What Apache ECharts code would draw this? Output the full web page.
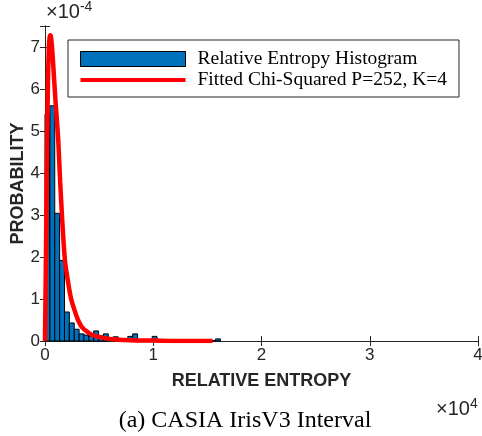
<!DOCTYPE html>
<html>
<head>
<meta charset="utf-8">
<style>
  html, body { margin: 0; padding: 0; background: #fff; }
  #chart { width: 482px; height: 436px; }
</style>
<script src="https://cdn.jsdelivr.net/npm/echarts@6/dist/echarts.min.js"></script>
</head>
<body>
<div id="chart"></div>
<script>
// Histogram of relative entropy (probability per bin, in units of 1e-4)
const binWidth = 450;
const histValues = [
  5.4, 5.6, 3.04, 1.92, 0.69, 0.43, 0.28, 0.17, 0.14, 0.12,
  0.24, 0.12, 0.17, 0.02, 0.10, 0.03, 0.02, 0.11, 0.17, 0.03,
  0.02, 0.03, 0.11, 0.02, 0.02, 0.01, 0.03, 0.03, 0.01, 0.01,
  0.01, 0.01, 0.01, 0.01, 0.01, 0.05
];

// Fitted chi-squared curve: relative entropy vs probability (1e-4)
const fitX = [0, 92, 184, 276, 350, 415, 480, 553, 640, 737, 850, 968, 1100, 1226, 1400,
              1594, 1843, 2147, 2400, 2719, 3050, 3410, 4000, 4608, 5990, 7834, 10000, 12500, 15480];
const fitY = [0, 2.16, 4.53, 6.19, 6.95, 7.21, 7.28, 7.24, 7.02, 6.67, 6.2, 5.72, 5.25, 4.77, 3.8,
              2.87, 1.92, 1.38, 1.02, 0.74, 0.5, 0.33, 0.2, 0.12, 0.05, 0.02, 0.01, 0.0, 0.0];

// Axis ticks
const xTicks = [0, 10000, 20000, 30000, 40000];
const yTicks = [0, 1, 2, 3, 4, 5, 6, 7];

const legendNames = ['Relative Entropy Histogram', 'Fitted Chi-Squared P=252, K=4'];
const xLabel = 'RELATIVE ENTROPY';
const yLabel = 'PROBABILITY';
const caption = '(a) CASIA IrisV3 Interval';

const histData = histValues.map((v, i) => [i * binWidth, (i + 1) * binWidth, v]);
const fitData = fitX.map((x, i) => [x, fitY[i]]);

const axisColor = '#262626';
const sans = 'Liberation Sans';
const serif = 'Liberation Serif';

// thin horizontal stripe inside a full-size box, used as the legend line icon
const lineIcon = 'path://M0,0L0.01,0L0.01,0.01Z M0,5.5L105,5.5L105,9.5L0,9.5Z M104.99,14.99L105,14.99L105,15Z';

const multRich = {
  a: { fontFamily: sans, fontSize: 20, fill: axisColor },
  b: { fontFamily: sans, fontSize: 14, fill: axisColor, verticalAlign: 'top', padding: [0, 0, 10, 0] }
};

const chart = echarts.init(document.getElementById('chart'));
chart.setOption({
  animation: false,
  backgroundColor: '#fff',
  grid: { left: 45, right: 4, top: 26, bottom: 95, outerBoundsMode: 'none', containLabel: false },
  legend: {
    orient: 'vertical',
    left: 68, top: 40,
    padding: [9, 12, 7, 12],
    itemGap: 1,
    itemWidth: 105, itemHeight: 15,
    backgroundColor: '#fff',
    borderColor: axisColor, borderWidth: 1,
    textStyle: { fontFamily: serif, fontSize: 19.5, color: '#000', padding: [0, 0, 0, 7] },
    data: [
      { name: legendNames[0], icon: 'rect', itemStyle: { color: '#0072BD', borderColor: '#000', borderWidth: 1 } },
      { name: legendNames[1], icon: lineIcon, itemStyle: { color: '#FF0000' } }
    ]
  },
  xAxis: [{
    type: 'value', min: 0, max: 40000, interval: 10000,
    name: xLabel, nameLocation: 'middle', nameGap: 31, nameMoveOverlap: false,
    nameTextStyle: { fontFamily: sans, fontWeight: 'bold', fontSize: 18, color: axisColor },
    axisLine: { show: true, onZero: false, lineStyle: { color: axisColor, width: 1 } },
    axisTick: { show: true, inside: true, length: 5, lineStyle: { color: axisColor } },
    axisLabel: {
      fontFamily: sans, fontSize: 17, color: axisColor, margin: 6,
      formatter: v => xTicks.includes(v) ? String(v / 10000) : ''
    },
    splitLine: { show: false }
  }, {
    type: 'value', position: 'top', min: 0, max: 40000, interval: 10000,
    axisLine: { show: true, lineStyle: { color: axisColor, width: 1 } },
    axisTick: { show: true, inside: true, length: 5, lineStyle: { color: axisColor } },
    axisLabel: { show: false }, splitLine: { show: false }
  }],
  yAxis: [{
    type: 'value', min: 0, max: 7.5, interval: 1,
    name: yLabel, nameLocation: 'middle', nameGap: 18, nameMoveOverlap: false,
    nameTextStyle: { fontFamily: sans, fontWeight: 'bold', fontSize: 18, color: axisColor },
    axisLine: { show: true, onZero: false, lineStyle: { color: axisColor, width: 1 } },
    axisTick: { show: true, inside: true, length: 5, lineStyle: { color: axisColor } },
    axisLabel: {
      fontFamily: sans, fontSize: 17, color: axisColor, margin: 5,
      formatter: v => yTicks.includes(v) ? String(v) : ''
    },
    splitLine: { show: false }
  }, {
    type: 'value', position: 'right', min: 0, max: 7.5, interval: 1,
    axisLine: { show: true, lineStyle: { color: axisColor, width: 1 } },
    axisTick: { show: true, inside: true, length: 5, lineStyle: { color: axisColor } },
    axisLabel: { show: false }, splitLine: { show: false }
  }],
  series: [{
    name: legendNames[0],
    type: 'custom',
    data: histData,
    encode: { x: [0, 1], y: 2 },
    z: 2,
    renderItem: (params, api) => {
      const p0 = api.coord([api.value(0), api.value(2)]);
      const p1 = api.coord([api.value(1), 0]);
      return {
        type: 'rect',
        shape: { x: p0[0], y: p0[1], width: p1[0] - p0[0], height: p1[1] - p0[1] },
        style: { fill: '#0072BD', stroke: '#000', lineWidth: 1 }
      };
    }
  }, {
    name: legendNames[1],
    type: 'line',
    data: fitData,
    smooth: 0.3,
    showSymbol: false,
    symbol: 'none',
    z: 5,
    lineStyle: { color: '#FF0000', width: 4.5 },
    itemStyle: { color: '#FF0000' }
  }],
  graphic: [
    {
      type: 'text', left: 46, top: 0,
      style: { text: '{a|×10}{b|-4}', rich: multRich }
    },
    {
      type: 'text', left: 436, top: 397,
      style: { text: '{a|×10}{b|4}', rich: multRich }
    },
    {
      type: 'text', x: 245, y: 421,
      style: {
        text: caption, fontFamily: serif, fontSize: 24, fill: '#000',
        align: 'center', verticalAlign: 'middle'
      }
    }
  ]
});
</script>
</body>
</html>
